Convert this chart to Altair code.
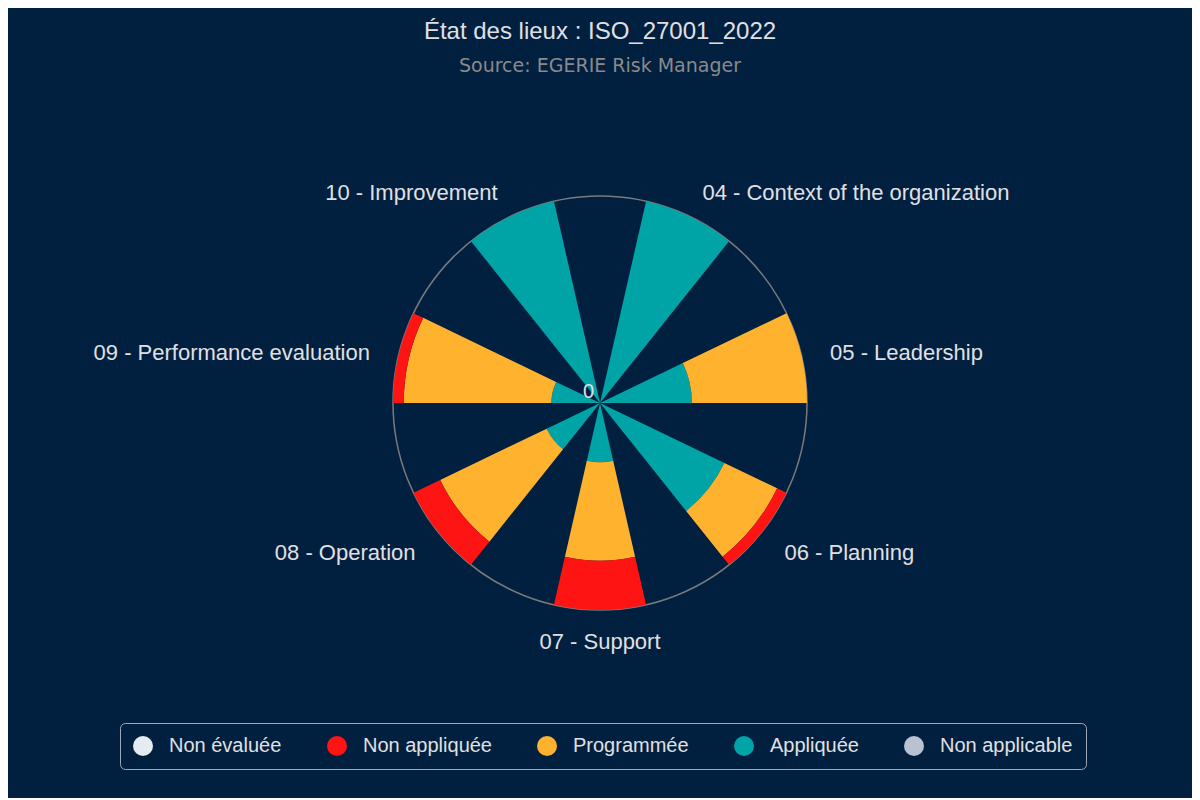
import math

import altair as alt
import pandas as pd

# --- data (share of requirements per status, %) ---
categories = [
    "04 - Context of the organization",
    "05 - Leadership",
    "06 - Planning",
    "07 - Support",
    "08 - Operation",
    "09 - Performance evaluation",
    "10 - Improvement",
]
statuses = ["Non évaluée", "Non appliquée", "Programmée", "Appliquée", "Non applicable"]
status_colors = ["#E6EBF0", "#FF1414", "#FFB22E", "#00A3A6", "#B8C2D0"]

non_evaluee = [0, 0, 0, 0, 0, 0, 0]
non_appliquee = [0, 0, 5.0, 23.8, 14.3, 5.2, 0]
programmee = [0, 55.6, 28.3, 47.6, 57.1, 71.3, 0]
appliquee = [100, 44.4, 66.7, 28.6, 28.6, 23.5, 100]
non_applicable = [0, 0, 0, 0, 0, 0, 0]

y_ticks = [0]
y_max = 100

BG = "#011F3F"
TEXT = "#E0E0E3"

series = dict(zip(statuses, [non_evaluee, non_appliquee, programmee, appliquee, non_applicable]))

# stacked from the centre outwards, last series innermost (like the original)
rows = []
for i, cat in enumerate(categories):
    base = 0.0
    for status in reversed(statuses):
        v = series[status][i]
        if v > 0:
            rows.append({"category": cat, "status": status, "value": v,
                         "r0": base, "r1": base + v,
                         "t0": i + 0.25, "t1": i + 0.75})
        base += v
df = pd.DataFrame(rows)

labels = []
for i, cat in enumerate(categories):
    s = math.sin((i + 0.5) / len(categories) * 2 * math.pi)
    side = "left" if s > 0.01 else ("right" if s < -0.01 else "center")
    labels.append({"category": cat, "mid": i + 0.5, "side": side})
lab_df = pd.DataFrame(labels)

theta_scale = alt.Scale(domain=[0, len(categories)], range=[0, 2 * math.pi])
r_scale = alt.Scale(type="linear", domain=[0, y_max], range=[0, 207], zero=True)

ring = alt.Chart(pd.DataFrame({"t0": [0], "t1": [len(categories)], "r": [y_max]})).mark_arc(
    filled=False, stroke="#7A7A7A", strokeWidth=1.5
).encode(
    theta=alt.Theta("t0:Q", scale=theta_scale, stack=None),
    theta2="t1:Q",
    radius=alt.Radius("r:Q", scale=r_scale),
)

wedges = alt.Chart(df).mark_arc(strokeWidth=0).encode(
    theta=alt.Theta("t0:Q", scale=theta_scale, stack=None),
    theta2="t1:Q",
    radius=alt.Radius("r1:Q", scale=r_scale),
    radius2="r0:Q",
    color=alt.Color(
        "status:N",
        scale=alt.Scale(domain=statuses, range=status_colors),
        legend=alt.Legend(
            title=None, orient="none", legendX=112, legendY=715,
            direction="horizontal", columns=5, symbolType="circle",
            symbolSize=400, symbolStrokeWidth=0, symbolOpacity=1,
            labelFont="Liberation Sans", labelFontSize=20, labelColor=TEXT,
            labelOffset=16, columnPadding=45, padding=13,
            strokeColor="#A0A8B8", cornerRadius=5, fillColor=BG,
        ),
    ),
    tooltip=["category:N", "status:N", "value:Q"],
)

def label_layer(side):
    return alt.Chart(lab_df).transform_filter(alt.datum.side == side).mark_text(
        align=side, baseline="middle", dy=3,
        font="Liberation Sans", fontSize=22, color=TEXT
    ).encode(
        theta=alt.Theta("mid:Q", scale=theta_scale, stack=None),
        radius=alt.value(236),
        text="category:N",
    )

zero = alt.Chart(pd.DataFrame({"tick": y_ticks})).mark_text(
    align="right", baseline="middle", dx=-6, dy=-11,
    font="Liberation Sans", fontSize=20, color=TEXT
).encode(
    theta=alt.value(0),
    radius=alt.Radius("tick:Q", scale=r_scale),
    text="tick:Q",
)

titles = pd.DataFrame({
    "text": ["État des lieux : ISO_27001_2022", "Source: EGERIE Risk Manager"],
    "kind": ["title", "subtitle"],
})
title = alt.Chart(titles).transform_filter(alt.datum.kind == "title").mark_text(
    align="center", baseline="alphabetic", font="Liberation Sans", fontSize=24, color=TEXT
).encode(x=alt.value(592), y=alt.value(31), text="text:N")
subtitle = alt.Chart(titles).transform_filter(alt.datum.kind == "subtitle").mark_text(
    align="center", baseline="alphabetic", font="DejaVu Sans", fontSize=19, color="#8A8A8A"
).encode(x=alt.value(592), y=alt.value(64), text="text:N")

chart = alt.layer(
    ring, wedges, label_layer("left"), label_layer("center"), label_layer("right"),
    zero, title, subtitle,
).properties(
    width=1184, height=790, padding=0,
    autosize=alt.AutoSizeParams(type="none"),
    background=BG,
).configure_view(stroke=None)

chart.save("out.html", embed_options={"renderer": "svg", "actions": False})
